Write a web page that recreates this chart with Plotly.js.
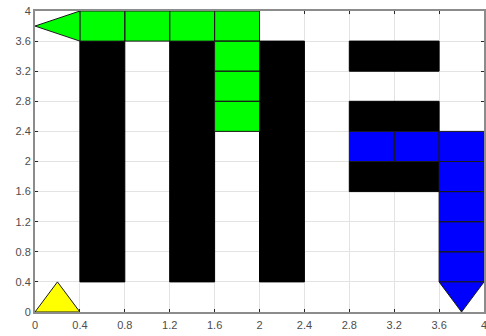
<!DOCTYPE html>
<html>
<head>
<meta charset="utf-8">
<script src="https://cdn.plot.ly/plotly-3.0.1.min.js"></script>
<style>html,body{margin:0;padding:0;background:#fff;}#chart{width:486px;height:336px;}</style>
</head>
<body>
<div id="chart"></div>
<script>
// Cell size and tick values
const cellSize = 0.4;
const tickVals = [0, 0.4, 0.8, 1.2, 1.6, 2, 2.4, 2.8, 3.2, 3.6, 4];
const tickText = ['0', '0.4', '0.8', '1.2', '1.6', '2', '2.4', '2.8', '3.2', '3.6', '4'];

// Lower-left corners of black (obstacle) cells
const blackX = [0.4,0.4,0.4,0.4,0.4,0.4,0.4,0.4, 1.2,1.2,1.2,1.2,1.2,1.2,1.2,1.2, 2.0,2.0,2.0,2.0,2.0,2.0,2.0,2.0, 2.8,3.2, 2.8,3.2, 2.8,3.2];
const blackY = [0.4,0.8,1.2,1.6,2.0,2.4,2.8,3.2, 0.4,0.8,1.2,1.6,2.0,2.4,2.8,3.2, 0.4,0.8,1.2,1.6,2.0,2.4,2.8,3.2, 3.2,3.2, 2.4,2.4, 1.6,1.6];

// Lower-left corners of green path cells
const greenX = [0.4, 0.8, 1.2, 1.6, 1.6, 1.6, 1.6];
const greenY = [3.6, 3.6, 3.6, 3.6, 3.2, 2.8, 2.4];
// Green arrow head triangle
const greenTriX = [0, 0.4, 0.4];
const greenTriY = [3.8, 4.0, 3.6];

// Lower-left corners of blue path cells
const blueX = [2.8, 3.2, 3.6, 3.6, 3.6, 3.6, 3.6];
const blueY = [2.0, 2.0, 2.0, 1.6, 1.2, 0.8, 0.4];
// Blue arrow head triangle
const blueTriX = [3.6, 4.0, 3.8];
const blueTriY = [0.4, 0.4, 0.0];

// Yellow start triangle
const yellowTriX = [0, 0.4, 0.2];
const yellowTriY = [0, 0, 0.4];

function cellsToPoly(xs, ys, s) {
  const px = [], py = [];
  for (let i = 0; i < xs.length; i++) {
    const x = xs[i], y = ys[i];
    px.push(x, x + s, x + s, x, x, null);
    py.push(y, y, y + s, y + s, y, null);
  }
  return {x: px, y: py};
}
function triPoly(xs, ys) {
  return {x: xs.concat([xs[0]]), y: ys.concat([ys[0]])};
}

const bk = cellsToPoly(blackX, blackY, cellSize);
const gr = cellsToPoly(greenX, greenY, cellSize);
const bl = cellsToPoly(blueX, blueY, cellSize);
const gt = triPoly(greenTriX, greenTriY);
const bt = triPoly(blueTriX, blueTriY);
const yt = triPoly(yellowTriX, yellowTriY);

function poly(p, fill, line) {
  return {x: p.x, y: p.y, type: 'scatter', mode: 'lines', fill: 'toself',
    fillcolor: fill, line: {color: line, width: 1}, hoverinfo: 'skip', showlegend: false};
}

const data = [
  poly(bk, '#000000', '#000000'),
  poly(gr, '#00ff00', '#1a1a1a'),
  poly(gt, '#00ff00', '#1a1a1a'),
  poly(bl, '#0000ff', '#1a1a1a'),
  poly(bt, '#0000ff', '#1a1a1a'),
  poly(yt, '#ffff00', '#1a1a1a')
];

const axisCommon = {
  range: [0, 4], tickmode: 'array', tickvals: tickVals, ticktext: tickText,
  showgrid: true, gridcolor: '#e3e3e3', gridwidth: 1, zeroline: false,
  showline: true, linecolor: '#8c8c8c', linewidth: 2, mirror: 'ticks',
  ticks: 'inside', ticklen: 3, tickcolor: '#262626', tickwidth: 1,
  tickfont: {family: 'Liberation Sans, Arial, sans-serif', size: 11, color: '#4d4d4d'},
  ticklabeloverflow: 'allow',
  fixedrange: true
};

const layout = {
  width: 486, height: 336,
  margin: {l: 35, r: 2, t: 11, b: 24, pad: 0},
  paper_bgcolor: '#ffffff', plot_bgcolor: '#ffffff',
  xaxis: Object.assign({}, axisCommon, {ticklabelstandoff: 2}),
  yaxis: Object.assign({}, axisCommon),
  showlegend: false
};

Plotly.newPlot('chart', data, layout, {displayModeBar: false, staticPlot: true});
</script>
</body>
</html>
